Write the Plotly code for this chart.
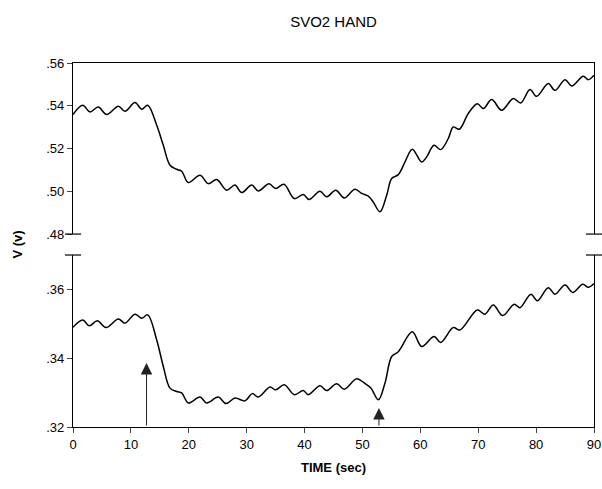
import plotly.graph_objects as go

# ---- data ----
top_time = [0, 1.68, 2.94, 4.37, 5.82, 7.83, 8.98, 10.71, 11.87, 12.9, 14.46, 15.6, 16.76, 17.91,
            18.78, 19.92, 21.94, 23.37, 24.82, 26.55, 27.98, 29.14, 30.87, 32.01, 33.86, 35.01,
            36.45, 38.23, 39.78, 40.77, 42.67, 43.82, 45.38, 46.86, 48.71, 49.87, 51.01, 51.87,
            53.03, 54.19, 55.05, 56.19, 57.35, 58.61, 60.23, 61.1, 62.36, 63.52, 64.83, 65.69,
            66.73, 68.28, 69.84, 70.88, 72.33, 74.05, 76.06, 77.34, 78.94, 80.1, 82.1, 83.26,
            84.99, 86.14, 88.15, 89.01, 90]
top_v = [.5359, .5402, .5371, .5394, .5359, .5398, .5374, .5415, .5384, .5402, .5309, .5215, .5122,
         .5103, .5094, .5041, .5075, .5036, .5055, .5005, .5029, .4994, .5029, .5002, .5035, .5013,
         .5033, .4966, .4985, .4962, .5000, .4974, .5005, .4969, .5010, .4990, .4977, .4950,
         .4904, .4982, .5060, .5078, .5137, .5197, .5137, .5161, .5215, .5195, .5247, .5301,
         .5290, .5364, .5410, .5387, .5429, .5379, .5434, .5413, .5476, .5444, .5504, .5472,
         .5522, .5493, .5538, .5522, .5543]

bot_time = [0, 1.68, 2.82, 4.2, 5.7, 7.83, 8.98, 10.71, 11.87, 12.9, 14.46, 15.6, 16.76, 17.91,
            18.78, 19.92, 21.94, 23.08, 25.1, 26.43, 27.98, 29.71, 30.97, 32.01, 34.03, 35.01,
            36.5, 38.23, 39.78, 40.65, 42.67, 43.82, 45.55, 46.86, 49.0, 50.32, 51.48, 52.74,
            53.9, 55.05, 56.19, 58.61, 60.23, 62.36, 63.52, 65.69, 66.85, 69.84, 71.17, 72.6,
            74.23, 76.23, 77.21, 79.11, 80.2, 82.1, 83.26, 84.99, 86.32, 88.05, 89.01, 90]
bot_v = [.3490, .3511, .3494, .3509, .3489, .3514, .3502, .3528, .3516, .3526, .3453, .3376, .3313,
         .3303, .3299, .3270, .3287, .3270, .3287, .3268, .3284, .3276, .3297, .3287, .3316, .3308,
         .3323, .3294, .3306, .3294, .3320, .3306, .3326, .3310, .3340, .3328, .3313, .3279,
         .3328, .3405, .3419, .3477, .3434, .3463, .3446, .3489, .3482, .3540, .3528, .3555,
         .3524, .3557, .3547, .3586, .3567, .3605, .3586, .3613, .3591, .3615, .3606, .3617]

x_ticks = [0, 10, 20, 30, 40, 50, 60, 70, 80, 90]
top_ticks = [.48, .50, .52, .54, .56]
top_ticktext = [".48", ".50", ".52", ".54", ".56"]
bot_ticks = [.32, .34, .36]
bot_ticktext = [".32", ".34", ".36"]

# arrows: (time, tip value)
arrow_time = [12.7, 52.85]
arrow_tip = [.3386, .3255]

# ---- figure ----
BOT_DOM = [0, 0.4725]
TOP_DOM = [0.530, 1]
FONT = "Liberation Sans, Arial, sans-serif"
W, H = 602, 489

fig = go.Figure()
fig.add_trace(go.Scatter(x=top_time, y=top_v, mode="lines", xaxis="x2", yaxis="y2",
                         line=dict(color="black", width=1.5, shape="spline", smoothing=1.0),
                         showlegend=False, hoverinfo="skip"))
fig.add_trace(go.Scatter(x=bot_time, y=bot_v, mode="lines", xaxis="x", yaxis="y",
                         line=dict(color="black", width=1.5, shape="spline", smoothing=1.0),
                         showlegend=False, hoverinfo="skip"))

annotations = []
for t, tip in zip(arrow_time, arrow_tip):
    annotations.append(dict(x=t, y=tip, ax=t, ay=bot_ticks[0], xref="x", yref="y",
                            axref="x", ayref="y", showarrow=True, arrowhead=2,
                            arrowsize=2.3, arrowwidth=1, arrowcolor="#222", text=""))
annotations.append(dict(text="<b>V (v)</b>", x=0, xref="paper", xanchor="center", xshift=-55,
                        y=(BOT_DOM[1] + TOP_DOM[0]) / 2, yref="paper", yanchor="middle",
                        textangle=-90, showarrow=False, font=dict(size=13, family=FONT, color="black")))

shapes = []
for yy in [TOP_DOM[0], BOT_DOM[1]]:
    for x0, x1 in [(-0.0155, 0.0155), (0.9845, 1.0155)]:
        shapes.append(dict(type="line", xref="paper", yref="paper", x0=x0, x1=x1, y0=yy, y1=yy,
                           line=dict(color="black", width=1.2)))

fig.update_layout(
    width=W, height=H,
    margin=dict(l=73, r=8, t=63, b=62, autoexpand=False),
    paper_bgcolor="white", plot_bgcolor="white",
    font=dict(family=FONT, size=12, color="black"),
    title=dict(text="SVO2 HAND", x=0.5, xref="paper", xanchor="center",
               y=1 - 22 / H, yref="container", yanchor="middle", automargin=False,
               font=dict(size=15, family=FONT, color="black")),
    xaxis=dict(range=[0, 90], anchor="y", tickvals=x_ticks, ticks="outside", ticklen=5,
               showline=True, linecolor="black", linewidth=1.2, showgrid=False, zeroline=False,
               automargin=False, ticklabeloverflow="allow",
               tickfont=dict(size=13), title=dict(text="<b>TIME (sec)</b>", standoff=12,
                                                  font=dict(size=13))),
    xaxis2=dict(range=[0, 90], matches="x", anchor="y2", side="top", showline=True,
                linecolor="black", linewidth=1.2, showticklabels=False, ticks="",
                showgrid=False, zeroline=False, automargin=False),
    yaxis=dict(domain=BOT_DOM, range=[.32, .37], tickvals=bot_ticks, ticktext=bot_ticktext,
               ticks="outside", ticklen=5, showline=True, mirror=True, linecolor="black",
               linewidth=1.2, showgrid=False, zeroline=False, tickfont=dict(size=13),
               automargin=False),
    yaxis2=dict(domain=TOP_DOM, range=[.48, .56], tickvals=top_ticks, ticktext=top_ticktext,
                ticks="outside", ticklen=5, showline=True, mirror=True, linecolor="black",
                linewidth=1.2, showgrid=False, zeroline=False, tickfont=dict(size=13),
                automargin=False),
    annotations=annotations,
    shapes=shapes,
)

fig.write_html("out.html", config={"displayModeBar": False},
               post_script="document.body.style.margin='0';document.body.style.overflow='hidden';")
